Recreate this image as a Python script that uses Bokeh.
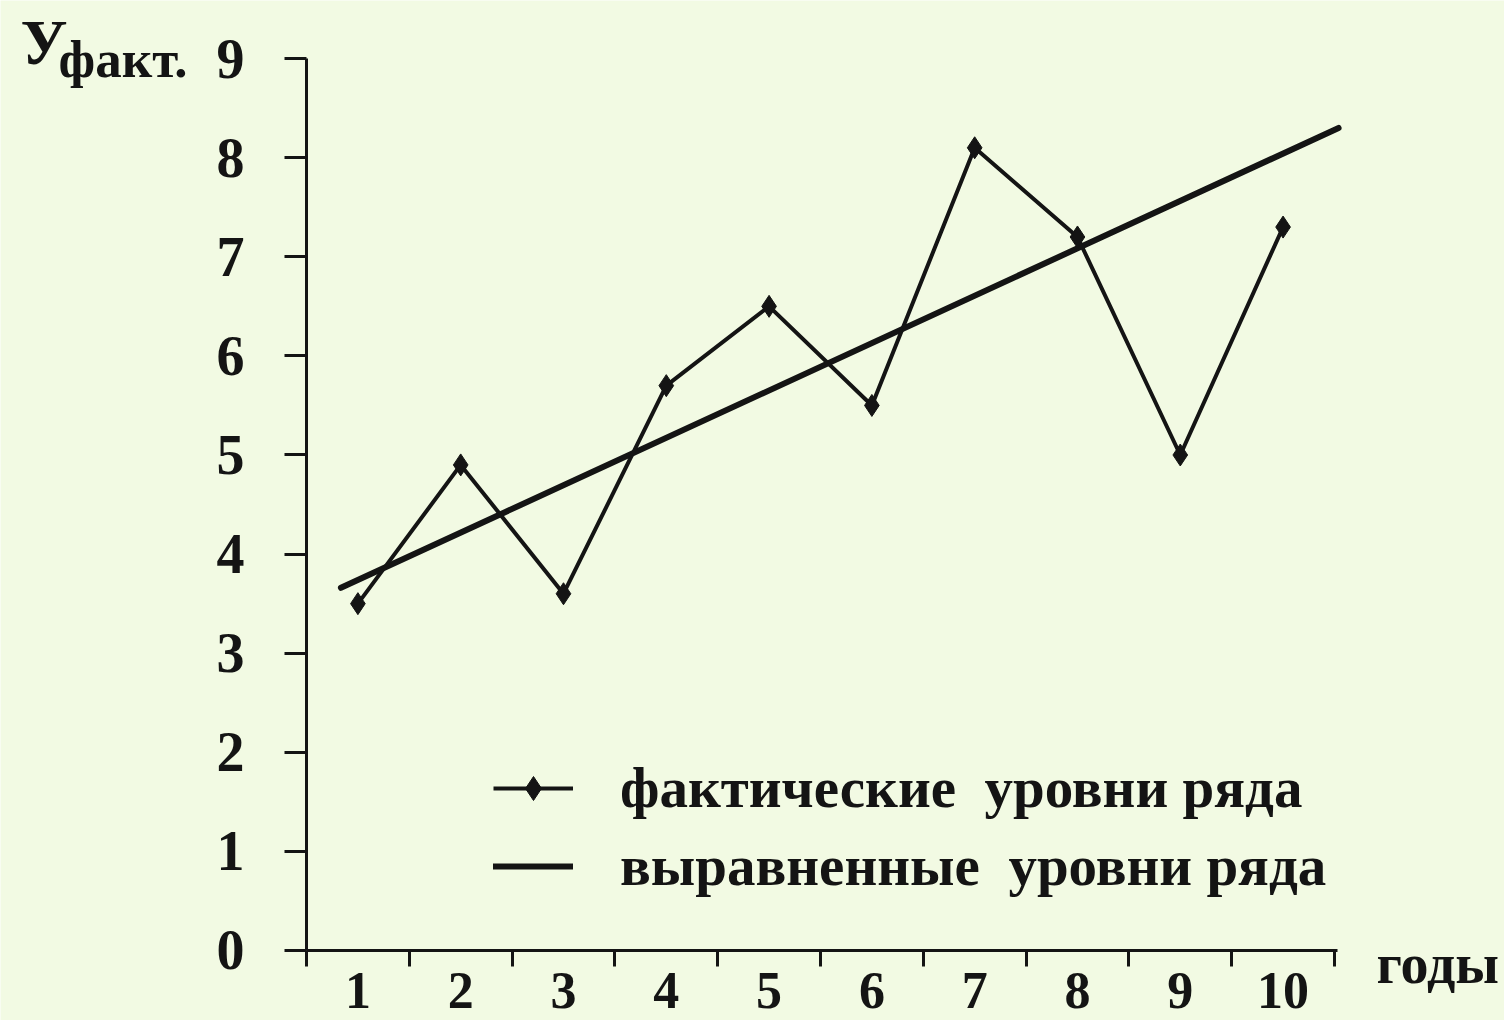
from bokeh.plotting import figure
from bokeh.models import FixedTicker, Label, Legend, LegendItem, Range1d
from bokeh.embed import file_html
from bokeh.resources import INLINE

# ---- data ----
years = [1, 2, 3, 4, 5, 6, 7, 8, 9, 10]
actual = [3.5, 4.9, 3.6, 5.7, 6.5, 5.5, 8.1, 7.2, 5.0, 7.3]
trend_x = [0.835, 10.54]
trend_y = [3.66, 8.30]
y_ticks = [0, 1, 2, 3, 4, 5, 6, 7, 8, 9]
x_minor = [0.5, 1.5, 2.5, 3.5, 4.5, 5.5, 6.5, 7.5, 8.5, 9.5, 10.5]
label_actual = "фактические  уровни ряда"
label_trend = "выравненные  уровни ряда"
y_title_main = "У"
y_title_sub = "факт."
x_title = "годы"

W, H = 1504, 1020
BG = "#f2fae3"
INK = "#141414"
FONT = "Liberation Serif"

p = figure(width=W, height=H, output_backend="svg", toolbar_location=None,
           x_range=Range1d(-2.4767, 12.154), y_range=Range1d(-0.7064, 9.5863),
           min_border=0, min_border_left=0, min_border_right=0,
           min_border_top=0, min_border_bottom=0)
p.background_fill_color = BG
p.border_fill_color = BG
p.outline_line_color = None
p.xgrid.visible = False
p.ygrid.visible = False

# axes
xa = p.xaxis[0]
xa.fixed_location = 0
xa.bounds = (0.5, 10.53)
xa.ticker = FixedTicker(ticks=years, minor_ticks=x_minor)
xa.axis_line_width = 3
xa.axis_line_color = INK
xa.major_tick_out = 0
xa.major_tick_in = 0
xa.minor_tick_out = 16
xa.minor_tick_in = 0
xa.minor_tick_line_width = 3
xa.minor_tick_line_color = INK
xa.major_label_standoff = 7
xa.major_label_text_font = FONT
xa.major_label_text_font_style = "bold"
xa.major_label_text_font_size = "52px"
xa.major_label_text_color = INK

ya = p.yaxis[0]
ya.fixed_location = 0.5
ya.bounds = (0, 9)
ya.ticker = FixedTicker(ticks=y_ticks, minor_ticks=[])
ya.axis_line_width = 3
ya.axis_line_color = INK
ya.major_tick_out = 22
ya.major_tick_in = 0
ya.major_tick_line_width = 3
ya.major_tick_line_color = INK
ya.minor_tick_out = 0
ya.minor_tick_in = 0
ya.major_label_standoff = 40
ya.major_label_text_font = FONT
ya.major_label_text_font_style = "bold"
ya.major_label_text_font_size = "56px"
ya.major_label_text_color = INK

# series
trend = p.line(trend_x, trend_y, line_width=6, line_color=INK, line_cap="round")
fact_line = p.line(years, actual, line_width=4, line_color=INK)
fact_pts = p.scatter(years, actual, marker="diamond", size=22,
                     fill_color=INK, line_color=INK)

legend = Legend(items=[
    LegendItem(label=label_actual, renderers=[fact_line, fact_pts]),
    LegendItem(label=label_trend, renderers=[trend]),
], location=(493, 122))
legend.background_fill_alpha = 0
legend.border_line_color = None
legend.padding = 0
legend.margin = 0
legend.spacing = 13
legend.glyph_width = 80
legend.glyph_height = 60
legend.label_height = 60
legend.label_standoff = 47
legend.label_text_font = FONT
legend.label_text_font_style = "bold"
legend.label_text_font_size = "57px"
legend.label_text_color = INK
p.add_layout(legend)

# titles
for txt, x, y, size in [(y_title_main, 20, 978, "64px"),
                         (y_title_sub, 58, 962, "53px"),
                         (x_title, 1376, 57, "56px")]:
    p.add_layout(Label(x=x, y=y, x_units="screen", y_units="screen", text=txt,
                       text_font=FONT, text_font_style="bold",
                       text_font_size=size, text_color=INK,
                       text_baseline="alphabetic", text_align="left"))

open("out.html", "w").write(file_html(p, INLINE))
